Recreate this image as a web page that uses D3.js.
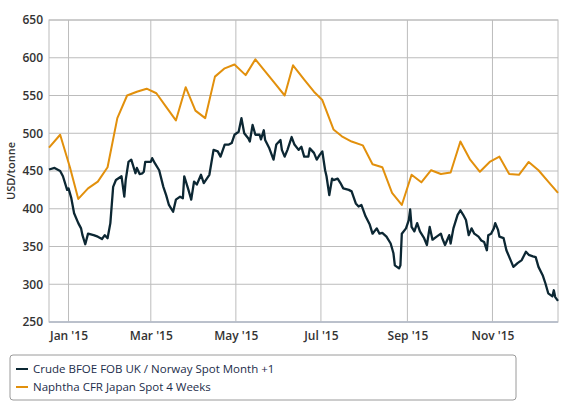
<!DOCTYPE html>
<html>
<head>
<meta charset="utf-8">
<script src="https://cdn.jsdelivr.net/npm/d3@7"></script>
<style>
  body { margin: 0; background: #fff; }
  text { font-family: "Open Sans", sans-serif; }
</style>
</head>
<body>
<svg id="chart"></svg>
<script>
// crude series (date, USD/tonne)
var crudeDates = ["2014-12-18","2014-12-22","2014-12-26","2014-12-28","2014-12-31","2015-01-01","2015-01-03","2015-01-05","2015-01-08","2015-01-10","2015-01-11","2015-01-13","2015-01-15","2015-01-19","2015-01-22","2015-01-25","2015-01-27","2015-01-29","2015-01-31","2015-02-02","2015-02-04","2015-02-08","2015-02-10","2015-02-11","2015-02-13","2015-02-15","2015-02-18","2015-02-19","2015-02-21","2015-02-23","2015-02-24","2015-02-25","2015-03-01","2015-03-02","2015-03-04","2015-03-07","2015-03-10","2015-03-12","2015-03-14","2015-03-17","2015-03-19","2015-03-22","2015-03-24","2015-03-25","2015-03-28","2015-03-30","2015-04-01","2015-04-03","2015-04-06","2015-04-08","2015-04-12","2015-04-15","2015-04-18","2015-04-20","2015-04-23","2015-04-26","2015-04-28","2015-04-30","2015-05-03","2015-05-05","2015-05-07","2015-05-10","2015-05-11","2015-05-13","2015-05-15","2015-05-18","2015-05-19","2015-05-21","2015-05-22","2015-05-25","2015-05-28","2015-05-30","2015-06-02","2015-06-03","2015-06-05","2015-06-07","2015-06-10","2015-06-12","2015-06-15","2015-06-17","2015-06-19","2015-06-22","2015-06-23","2015-06-26","2015-06-28","2015-06-30","2015-07-02","2015-07-04","2015-07-05","2015-07-07","2015-07-09","2015-07-10","2015-07-13","2015-07-15","2015-07-17","2015-07-21","2015-07-23","2015-07-26","2015-07-28","2015-07-30","2015-08-02","2015-08-05","2015-08-07","2015-08-10","2015-08-12","2015-08-14","2015-08-17","2015-08-20","2015-08-22","2015-08-23","2015-08-26","2015-08-27","2015-08-28","2015-08-31","2015-09-02","2015-09-03","2015-09-04","2015-09-06","2015-09-08","2015-09-10","2015-09-13","2015-09-15","2015-09-17","2015-09-19","2015-09-22","2015-09-25","2015-09-26","2015-09-28","2015-10-01","2015-10-02","2015-10-04","2015-10-07","2015-10-09","2015-10-11","2015-10-13","2015-10-15","2015-10-17","2015-10-19","2015-10-22","2015-10-24","2015-10-26","2015-10-28","2015-10-29","2015-10-31","2015-11-02","2015-11-03","2015-11-05","2015-11-06","2015-11-09","2015-11-11","2015-11-14","2015-11-16","2015-11-19","2015-11-22","2015-11-25","2015-11-27","2015-11-30","2015-12-02","2015-12-04","2015-12-07","2015-12-09","2015-12-11","2015-12-14","2015-12-15","2015-12-16","2015-12-18"];
var crudeValues = [452,454,450,443,425,427,414,394,381,374,365,353,367,365,363,360,365,361,381,429,438,443,416,438,462,465,447,454,446,447,449,462,462,467,460,451,429,418,405,396,412,416,414,443,425,412,436,432,445,434,445,478,476,469,485,485,487,498,502,520,500,493,489,511,498,498,492,504,491,480,465,485,491,478,469,478,495,485,478,482,469,469,480,474,465,471,476,451,443,418,440,438,440,434,427,425,423,407,403,405,390,379,367,374,367,368,363,354,341,325,321,325,367,374,385,399,376,370,381,370,361,352,376,359,363,367,361,352,365,354,374,392,398,392,385,365,374,367,363,358,356,345,365,367,374,381,372,363,361,345,332,323,328,332,343,339,337,336,323,312,301,288,284,292,283,278];

// naphtha series, weekly points
var naphthaDates = ["2014-12-18","2014-12-26","2015-01-02","2015-01-08","2015-01-15","2015-01-22","2015-01-29","2015-02-05","2015-02-12","2015-02-19","2015-02-26","2015-03-05","2015-03-12","2015-03-19","2015-03-26","2015-04-02","2015-04-09","2015-04-16","2015-04-23","2015-04-30","2015-05-08","2015-05-15","2015-05-22","2015-05-29","2015-06-05","2015-06-11","2015-06-19","2015-06-26","2015-07-02","2015-07-10","2015-07-16","2015-07-23","2015-07-31","2015-08-07","2015-08-14","2015-08-21","2015-08-28","2015-09-04","2015-09-11","2015-09-18","2015-09-25","2015-10-02","2015-10-09","2015-10-16","2015-10-23","2015-10-30","2015-11-06","2015-11-13","2015-11-20","2015-11-27","2015-12-04","2015-12-11","2015-12-18"];
var naphthaValues = [481,498,455,413,427,436,455,520,550,555,559,553,535,517,561,530,520,575,586,591,577,598,582,566,550,590,571,555,544,505,496,489,484,459,455,421,405,445,435,451,446,448,489,465,449,462,469,446,445,462,451,436,421];

var yTicks = [250,300,350,400,450,500,550,600,650];
var xTickDates = ["2015-01-01","2015-03-01","2015-05-01","2015-07-01","2015-09-01","2015-11-01"];
var seriesNames = ["Crude BFOE FOB UK / Norway Spot Month +1","Naphtha CFR Japan Spot 4 Weeks"];
var seriesColors = ["#0c2733","#e2900c"];

var width = 576, height = 408;
var margin = {top: 20, right: 18, bottom: 86, left: 49};
var w = width - margin.left - margin.right,
    h = height - margin.top - margin.bottom;

var parse = d3.timeParse("%Y-%m-%d");
var fmt = d3.timeFormat("%b '%y");

var svg = d3.select("#chart")
    .attr("width", width)
    .attr("height", height);

var x = d3.scaleTime()
    .domain([parse("2014-12-18"), parse("2015-12-18")])
    .range([0, w]);
var y = d3.scaleLinear().domain([250, 650]).range([h, 0]);

var g = svg.append("g")
    .attr("transform", "translate(" + margin.left + "," + margin.top + ")");

// grid
g.append("g").selectAll("line").data(yTicks).enter().append("line")
    .attr("x1", 0).attr("x2", w)
    .attr("y1", function(d) { return y(d); }).attr("y2", function(d) { return y(d); })
    .attr("stroke", "#bcbcbc").attr("stroke-width", 1);
g.append("g").selectAll("line").data(xTickDates.map(parse)).enter().append("line")
    .attr("y1", 0).attr("y2", h)
    .attr("x1", function(d) { return x(d); }).attr("x2", function(d) { return x(d); })
    .attr("stroke", "#bcbcbc").attr("stroke-width", 1);
g.append("rect")
    .attr("width", w).attr("height", h)
    .attr("fill", "none").attr("stroke", "#bcbcbc");
g.append("line")
    .attr("x1", 0).attr("x2", w).attr("y1", h).attr("y2", h)
    .attr("stroke", "#b4bccb").attr("stroke-width", 1.5);

// axes
var yAxis = g.append("g")
    .call(d3.axisLeft(y).tickValues(yTicks).tickSize(0).tickPadding(6));
yAxis.select(".domain").remove();
yAxis.selectAll("text").style("font-size", "12px").style("font-weight", "600").attr("fill", "#333");

var xAxis = g.append("g")
    .attr("transform", "translate(0," + h + ")")
    .call(d3.axisBottom(x).tickValues(xTickDates.map(parse)).tickFormat(fmt).tickSize(0).tickPadding(9));
xAxis.select(".domain").remove();
xAxis.selectAll("text").style("font-size", "12px").style("font-weight", "600").attr("fill", "#333");

svg.append("text")
    .attr("transform", "translate(15," + (margin.top + h / 2) + ") rotate(-90)")
    .attr("text-anchor", "middle")
    .style("font-size", "11px")
    .style("font-weight", "600")
    .attr("fill", "#333")
    .text("USD/tonne");

// lines
var line = d3.line()
    .x(function(d) { return x(d.date); })
    .y(function(d) { return y(d.value); });

var crude = crudeDates.map(function(d, i) { return {date: parse(d), value: crudeValues[i]}; });
var naphtha = naphthaDates.map(function(d, i) { return {date: parse(d), value: naphthaValues[i]}; });

g.append("path").datum(naphtha)
    .attr("fill", "none").attr("stroke", seriesColors[1]).attr("stroke-width", 2)
    .attr("stroke-linejoin", "round")
    .attr("d", line);
g.append("path").datum(crude)
    .attr("fill", "none").attr("stroke", seriesColors[0]).attr("stroke-width", 2.3)
    .attr("stroke-linejoin", "round")
    .attr("d", line);

// legend
var lg = svg.append("g").attr("transform", "translate(10,355)");
lg.append("rect")
    .attr("width", 506).attr("height", 45).attr("rx", 3)
    .attr("fill", "#fff").attr("stroke", "#9a9a9a").attr("stroke-width", 1);
var item = lg.selectAll(".item").data(seriesNames).enter().append("g")
    .attr("transform", function(d, i) { return "translate(6," + (14 + i * 18) + ")"; });
item.append("line")
    .attr("x1", 0).attr("x2", 12).attr("y1", 0).attr("y2", 0)
    .attr("stroke", function(d, i) { return seriesColors[i]; })
    .attr("stroke-width", 2);
item.append("text")
    .attr("x", 17).attr("y", 0).attr("dy", "0.35em")
    .style("font-size", "11.5px")
    .attr("fill", "#1c2d4a")
    .text(function(d) { return d; });
</script>
</body>
</html>
